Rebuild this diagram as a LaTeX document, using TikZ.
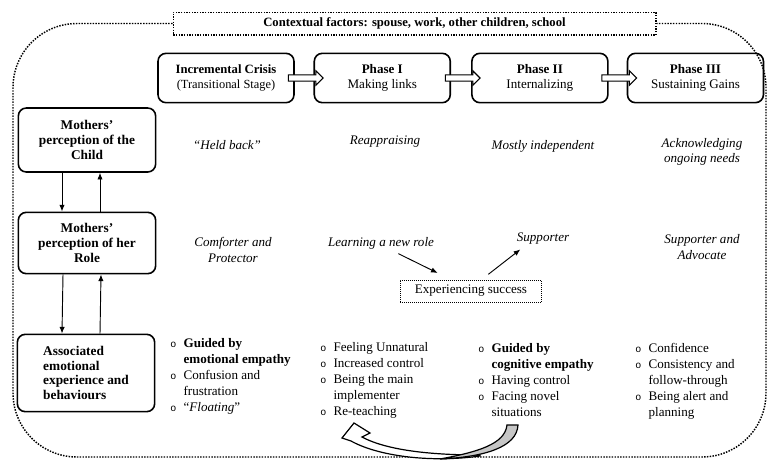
\documentclass[tikz,border=0pt]{standalone}
\usepackage{fontspec}
\setmainfont{Liberation Serif}
\newfontfamily\bulfont{Liberation Mono}
\usetikzlibrary{positioning,shapes.arrows,arrows.meta,calc}
\newcommand{\lmark}{{\bulfont\fontsize{7.5}{7.5}\selectfont o}}

\begin{document}
\begin{tikzpicture}[x=0.75pt,y=-0.75pt,font=\fontsize{9.8}{12}\selectfont,
    stagebox/.style={draw,line width=1.2pt,rounded corners=6pt,minimum width=102pt,minimum height=37pt,align=center,inner sep=2pt,font=\fontsize{9.8}{11.2}\selectfont},
    rowbox/.style={draw,line width=1.2pt,rounded corners=6pt,minimum width=103pt,align=center,font=\bfseries\fontsize{10}{11}\selectfont},
    blockarr/.style={single arrow,draw,fill=white,line width=0.8pt,minimum height=26pt,inner sep=2pt,single arrow head extend=3pt},
    quote/.style={font=\itshape\fontsize{9.8}{11.5}\selectfont,align=center},
    link/.style={-{Latex[length=5pt,width=4pt]},line width=0.7pt},
    blist/.style={anchor=base west,inner sep=0pt}]
  \useasboundingbox (0,0) rectangle (769,461);

  % context and outer border
  \node[draw,densely dotted,line width=1pt,minimum width=362pt,minimum height=17pt,font=\bfseries\fontsize{9.5}{11}\selectfont] (context) at (414.5,23.5)
    {Contextual factors: spouse, work, other children, school};
  \draw[densely dotted,line width=1.1pt,rounded corners=48pt] (context.west) -- (13,23.5) -- (13,457) -- (766,457) -- (766,23.5) -- (context.east);

  % stages
  \node[stagebox] (crisis) at (226,78) {{\bfseries\fontsize{9.5}{11}\selectfont Incremental Crisis}\\{\fontsize{9.3}{11}\selectfont(Transitional Stage)}};
  \node[stagebox,right=14pt of crisis] (phaseA) {{\bfseries Phase I}\\Making links};
  \node[stagebox,right=15pt of phaseA] (phaseB) {{\bfseries Phase II}\\Internalizing};
  \node[stagebox,right=13.5pt of phaseB] (phaseC) {{\bfseries Phase III}\\Sustaining Gains};
  \node[blockarr] at ($(crisis.east)!0.5!(phaseA.west)$) {};
  \node[blockarr] at ($(phaseA.east)!0.5!(phaseB.west)$) {};
  \node[blockarr] at ($(phaseB.east)!0.5!(phaseC.west)$) {};

  % row headings
  \node[rowbox,minimum height=48pt] (childbox) at (87,140) {Mothers’\\perception of the\\Child};
  \node[rowbox,minimum height=46pt] (rolebox) at (87,243) {Mothers’\\perception of her\\Role};
  \node[rowbox,minimum height=58pt,align=left] (emobox) at (86,373) {Associated\\emotional\\experience and\\behaviours};
  \draw[link] ([xshift=-18.75pt]childbox.south) -- ([xshift=-18.75pt]rolebox.north);
  \draw[link] ([xshift=9.75pt]rolebox.north) -- ([xshift=9.75pt]childbox.south);
  \draw[link] ([xshift=-18pt]rolebox.south) -- ([xshift=-18pt]emobox.north);
  \draw[link] ([xshift=10.5pt]emobox.north) -- ([xshift=10.5pt]rolebox.south);

  % perception of the child
  \node[quote] (heldback) at (227,145) {“Held back”};
  \node[quote] (reappr) at (385,142) {Reappraising};
  \node[quote] (indep) at (543,146) {Mostly independent};
  \node[quote] (acknow) at (702,152) {Acknowledging\\ongoing needs};

  % perception of the role
  \node[quote] (comfort) at (233,250) {Comforter and\\Protector};
  \node[quote] (learn) at (381,243) {Learning a new role};
  \node[quote] (supp) at (543,239) {Supporter};
  \node[quote] (advoc) at (702,247) {Supporter and\\Advocate};
  \node[draw,densely dotted,line width=0.5pt,minimum width=106pt,minimum height=16.5pt] (success) at (471,291) {Experiencing success};
  \draw[link] ([xshift=13pt]learn.south) -- ([xshift=-25pt,yshift=5pt]success.north);
  \draw[link] ([xshift=13pt,yshift=4pt]success.north) -- ([xshift=-17pt]supp.south);

  % emotional experience
  \node[blist] (listcrisis) at (170,347.5) {\begin{tabular}[t]{@{}l@{\hspace{5.5pt}}l@{}}
    \lmark & \textbf{Guided by}\\
           & \textbf{emotional empathy}\\
    \lmark & Confusion and\\
           & frustration\\
    \lmark & “\textit{Floating}”
  \end{tabular}};
  \node[blist] (listA) at (320,351.5) {\begin{tabular}[t]{@{}l@{\hspace{5.5pt}}l@{}}
    \lmark & Feeling Unnatural\\
    \lmark & Increased control\\
    \lmark & Being the main\\
           & implementer\\
    \lmark & Re-teaching
  \end{tabular}};
  \node[blist] (listB) at (478,352) {\begin{tabular}[t]{@{}l@{\hspace{5.5pt}}l@{}}
    \lmark & \textbf{Guided by}\\
           & \textbf{cognitive empathy}\\
    \lmark & Having control\\
    \lmark & Facing novel\\
           & situations
  \end{tabular}};
  \node[blist] (listC) at (635,352) {\begin{tabular}[t]{@{}l@{\hspace{5.5pt}}l@{}}
    \lmark & Confidence\\
    \lmark & Consistency and\\
           & follow-through\\
    \lmark & Being alert and\\
           & planning
  \end{tabular}};

  % curved arrow back to phase I
  \filldraw[fill=white,line width=0.9pt] (480,456) .. controls (430,463) and (378,456) .. (351,441) -- (342,438) -- (354,423)
    -- (370,433) -- (362,437) .. controls (390,452) and (440,455) .. (480,455) -- cycle;
  \filldraw[fill=gray!45,line width=0.9pt] (507,425) -- (518,425) .. controls (517,447) and (485,457) .. (440,459)
    .. controls (478,452) and (505,444) .. (507,425) -- cycle;
\end{tikzpicture}
\end{document}
